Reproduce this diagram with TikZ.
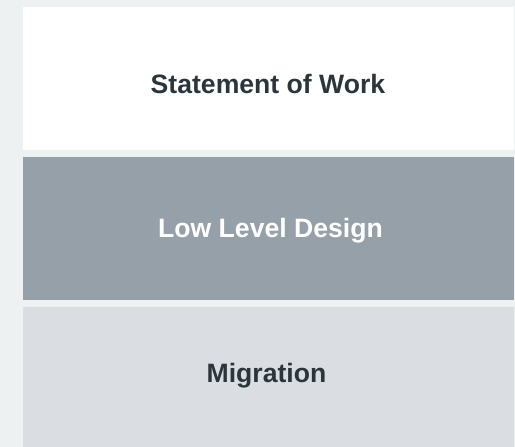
\documentclass[tikz,border=0pt]{standalone}
\usepackage{fontspec}
\setmainfont{Liberation Sans}
\usepackage{xcolor}
\definecolor{pagebg}{HTML}{EEF1F2}
\definecolor{slate}{HTML}{95A0A8}
\definecolor{mist}{HTML}{DADEE2}
\definecolor{ink}{HTML}{2B363C}

\begin{document}
\begin{tikzpicture}[x=1pt,y=-1pt,
    caption/.style={anchor=base,inner sep=0pt,font=\fontsize{26.6}{30}\selectfont\bfseries}]
    \fill[pagebg] (0,0) rectangle (515,447);
    \useasboundingbox (0,0) rectangle (515,447);
    \fill[white] (23,7) rectangle (514,150);
    \fill[slate] (23,157) rectangle (514,300);
    \fill[mist] (23,307) rectangle (514,447);
    \node[caption,text=ink] (sow) at (268,93.5) {Statement of Work};
    \node[caption,text=white] (lld) at (270.5,237) {Low Level Design};
    \node[caption,text=ink] (mig) at (266.5,382) {Migration};
  \end{tikzpicture}
\end{document}
